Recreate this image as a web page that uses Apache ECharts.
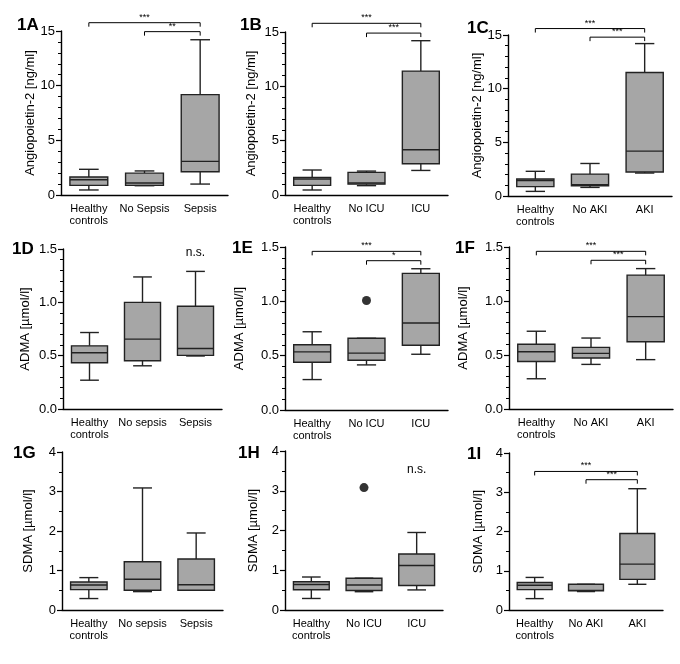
<!DOCTYPE html>
<html>
<head>
<meta charset="utf-8">
<script src="https://cdn.jsdelivr.net/npm/echarts@6/dist/echarts.min.js"></script>
<style>
  html, body { margin: 0; padding: 0; background: #fff; }
  #chart { width: 680px; height: 664px; }
</style>
</head>
<body>
<div id="chart"></div>
<script>
// categories
var catSepsisA = ["Healthy\ncontrols", "No Sepsis", "Sepsis"];
var catSepsis = ["Healthy\ncontrols", "No sepsis", "Sepsis"];
var catIcu = ["Healthy\ncontrols", "No ICU", "ICU"];
var catAki = ["Healthy\ncontrols", "No AKI", "AKI"];

// y tick values
var ticksAng2 = [0, 5, 10, 15];
var ticksAdma = [0, 0.5, 1.0, 1.5];
var ticksSdma = [0, 1, 2, 3, 4];

// boxes: [min, Q1, median, Q3, max] per category
var ang2Sepsis = [[0.46, 0.88, 1.4, 1.65, 2.35], [0.85, 0.88, 1.1, 2.0, 2.2], [1.0, 2.13, 3.08, 9.18, 14.2]];
var ang2Icu = [[0.46, 0.89, 1.47, 1.62, 2.3], [0.86, 1.0, 1.1, 2.08, 2.2], [2.26, 2.87, 4.16, 11.4, 14.2]];
var ang2Aki = [[0.43, 0.87, 1.45, 1.58, 2.3], [0.8, 0.96, 1.05, 2.04, 3.03], [2.14, 2.23, 4.18, 11.5, 14.2]];
var admaSepsis = [[0.27, 0.433, 0.527, 0.592, 0.717], [0.405, 0.452, 0.655, 1.0, 1.238], [0.497, 0.503, 0.567, 0.963, 1.29]];
var admaIcu = [[0.28, 0.44, 0.535, 0.6, 0.72], [0.415, 0.458, 0.523, 0.66, 0.66], [0.513, 0.596, 0.8, 1.257, 1.3]];
var admaAki = [[0.28, 0.44, 0.53, 0.6, 0.72], [0.413, 0.472, 0.515, 0.571, 0.657], [0.457, 0.623, 0.855, 1.24, 1.3]];
var sdmaSepsis = [[0.29, 0.516, 0.634, 0.71, 0.82], [0.465, 0.5, 0.78, 1.22, 3.09], [0.5, 0.5, 0.64, 1.29, 1.95]];
var sdmaIcu = [[0.29, 0.51, 0.64, 0.71, 0.83], [0.46, 0.49, 0.63, 0.8, 0.8], [0.505, 0.615, 1.12, 1.41, 1.95]];
var sdmaAki = [[0.29, 0.52, 0.63, 0.7, 0.83], [0.47, 0.49, 0.5, 0.655, 0.655], [0.655, 0.78, 1.17, 1.95, 3.09]];

// outliers: [category index, value]
var admaIcuOut = [[1, 1.008]];
var sdmaIcuOut = [[1, 3.08]];

// significance brackets: [from, to, y, label]
var sigAng2Sepsis = [[0, 2, 15.76, "***"], [1, 2, 14.94, "**"]];
var sigAng2Icu = [[0, 2, 15.8, "***"], [1, 2, 14.9, "***"]];
var sigAng2Aki = [[0, 2, 15.6, "***"], [1, 2, 14.8, "***"]];
var sigAdmaIcu = [[0, 2, 1.46, "***"], [1, 2, 1.374, "*"]];
var sigAdmaAki = [[0, 2, 1.46, "***"], [1, 2, 1.377, "***"]];
var sigSdmaAki = [[0, 2, 3.53, "***"], [1, 2, 3.32, "***"]];

// text notes: [category index, y, text]
var noteAdmaSepsis = [[2, 1.47, "n.s."]];
var noteSdmaIcu = [[2, 3.52, "n.s."]];

var font = "'Liberation Sans', Arial, sans-serif";
var ang2Name = "Angiopoietin-2 [ng/ml]";
var admaName = "ADMA [\u00b5mol/l]";
var sdmaName = "SDMA [\u00b5mol/l]";

var panels = [
  { letter: "1A", lx: 17, ly: 17, cats: catSepsisA, boxes: ang2Sepsis, ticks: ticksAng2, minor: 5, dec: 0, name: ang2Name, gap: 24, sig: sigAng2Sepsis, grid: [61, 31, 167, 164] },
  { letter: "1B", lx: 240, ly: 17, cats: catIcu, boxes: ang2Icu, ticks: ticksAng2, minor: 5, dec: 0, name: ang2Name, gap: 27, sig: sigAng2Icu, grid: [285, 32, 163, 163] },
  { letter: "1C", lx: 467, ly: 20, cats: catAki, boxes: ang2Aki, ticks: ticksAng2, minor: 5, dec: 0, name: ang2Name, gap: 23, sig: sigAng2Aki, grid: [508, 35, 164, 161] },
  { letter: "1D", lx: 12, ly: 241, cats: catSepsis, boxes: admaSepsis, ticks: ticksAdma, minor: 5, dec: 1, name: admaName, gap: 31, note: noteAdmaSepsis, grid: [63, 249, 159, 160] },
  { letter: "1E", lx: 232, ly: 240, cats: catIcu, boxes: admaIcu, ticks: ticksAdma, minor: 5, dec: 1, name: admaName, gap: 39, sig: sigAdmaIcu, out: admaIcuOut, grid: [285, 247, 163, 163] },
  { letter: "1F", lx: 455, ly: 240, cats: catAki, boxes: admaAki, ticks: ticksAdma, minor: 5, dec: 1, name: admaName, gap: 39, sig: sigAdmaAki, grid: [509, 247, 164, 162] },
  { letter: "1G", lx: 13, ly: 445, cats: catSepsis, boxes: sdmaSepsis, ticks: ticksSdma, minor: 2, dec: 0, name: sdmaName, gap: 27, grid: [62, 452, 161, 158] },
  { letter: "1H", lx: 238, ly: 445, cats: catIcu, boxes: sdmaIcu, ticks: ticksSdma, minor: 2, dec: 0, name: sdmaName, gap: 25, out: sdmaIcuOut, note: noteSdmaIcu, grid: [285, 451, 158, 159] },
  { letter: "1I", lx: 467, ly: 446, cats: catAki, boxes: sdmaAki, ticks: ticksSdma, minor: 2, dec: 0, name: sdmaName, gap: 24, sig: sigSdmaAki, grid: [509, 453, 154, 157] }
];

var ink = "#222";

function renderBox(params, api) {
  var i = api.value(0);
  var lo = api.coord([i, api.value(1)]);
  var q1 = api.coord([i, api.value(2)]);
  var md = api.coord([i, api.value(3)]);
  var q3 = api.coord([i, api.value(4)]);
  var hi = api.coord([i, api.value(5)]);
  var band = api.size([1, 0])[0];
  var bw = band * 0.68, cw = bw * 0.52;
  var x = lo[0];
  var ls = { stroke: ink, lineWidth: 1.4, fill: null };
  return {
    type: "group",
    children: [
      { type: "line", shape: { x1: x, y1: hi[1], x2: x, y2: q3[1] }, style: ls },
      { type: "line", shape: { x1: x, y1: q1[1], x2: x, y2: lo[1] }, style: ls },
      { type: "line", shape: { x1: x - cw / 2, y1: hi[1], x2: x + cw / 2, y2: hi[1] }, style: ls },
      { type: "line", shape: { x1: x - cw / 2, y1: lo[1], x2: x + cw / 2, y2: lo[1] }, style: ls },
      { type: "rect", shape: { x: x - bw / 2, y: q3[1], width: bw, height: q1[1] - q3[1] }, style: { fill: "#a6a6a6", stroke: ink, lineWidth: 1.4 } },
      { type: "line", shape: { x1: x - bw / 2, y1: md[1], x2: x + bw / 2, y2: md[1] }, style: ls }
    ]
  };
}

function sigRenderer(sig) {
  return function (params, api) {
    var s = sig[params.dataIndex];
    var a = api.coord([s[0], s[2]]);
    var b = api.coord([s[1], s[2]]);
    var d = 4;
    return {
      type: "group",
      children: [
        { type: "polyline", shape: { points: [[a[0], a[1] + d], [a[0], a[1]], [b[0], b[1]], [b[0], b[1] + d]] }, style: { stroke: "#000", lineWidth: 1, fill: null } },
        { type: "text", x: (a[0] + b[0]) / 2, y: a[1] - 1, style: { text: s[3], fontSize: 9, fontFamily: font, fill: "#000", align: "center", verticalAlign: "bottom" } }
      ]
    };
  };
}

function noteRenderer(note) {
  return function (params, api) {
    var n = note[params.dataIndex];
    var p = api.coord([n[0], n[1]]);
    return { type: "text", x: p[0], y: p[1], style: { text: n[2], fontSize: 12, fontFamily: font, fill: "#000", align: "center", verticalAlign: "middle" } };
  };
}

var option = {
  animation: false,
  textStyle: { fontFamily: font },
  title: [],
  grid: [],
  xAxis: [],
  yAxis: [],
  series: []
};

panels.forEach(function (p, k) {
  option.title.push({
    text: p.letter, left: p.lx, top: p.ly, padding: 0,
    textStyle: { fontSize: 17, fontWeight: "bold", color: "#000", fontFamily: font }
  });
  option.grid.push({ left: p.grid[0], top: p.grid[1], width: p.grid[2], height: p.grid[3] });
  option.xAxis.push({
    type: "category", gridIndex: k, data: p.cats,
    axisLine: { lineStyle: { color: "#000", width: 1.4 } },
    axisTick: { alignWithLabel: true, length: 4, lineStyle: { color: "#000", width: 1.2 } },
    axisLabel: { color: "#000", fontSize: 11, lineHeight: 12, margin: 8, interval: 0, fontFamily: font },
    splitLine: { show: false }
  });
  var t = p.ticks;
  option.yAxis.push({
    type: "value", gridIndex: k,
    min: t[0], max: t[t.length - 1], interval: t[1] - t[0],
    name: p.name, nameLocation: "middle", nameGap: p.gap,
    nameTextStyle: { fontSize: 13, color: "#000", fontFamily: font },
    axisLine: { show: true, lineStyle: { color: "#000", width: 1.4 } },
    axisTick: { show: true, length: 5, lineStyle: { color: "#000", width: 1.2 } },
    minorTick: { show: true, splitNumber: p.minor, length: 3, lineStyle: { color: "#000", width: 1 } },
    axisLabel: {
      color: "#000", fontSize: 13, margin: 6, fontFamily: font,
      formatter: function (v) { return v.toFixed(p.dec); }
    },
    splitLine: { show: false }
  });
  option.series.push({
    type: "custom", xAxisIndex: k, yAxisIndex: k,
    renderItem: renderBox,
    encode: { x: 0, y: [1, 2, 3, 4, 5] },
    data: p.boxes.map(function (b, i) { return [i].concat(b); })
  });
  if (p.out) {
    option.series.push({
      type: "scatter", xAxisIndex: k, yAxisIndex: k,
      symbolSize: 9, itemStyle: { color: "#000" },
      data: p.out
    });
  }
  if (p.sig) {
    option.series.push({
      type: "custom", xAxisIndex: k, yAxisIndex: k, clip: false,
      renderItem: sigRenderer(p.sig),
      encode: { x: 0, y: 2 },
      data: p.sig.map(function (s) { return [s[0], s[1], s[2]]; })
    });
  }
  if (p.note) {
    option.series.push({
      type: "custom", xAxisIndex: k, yAxisIndex: k, clip: false,
      renderItem: noteRenderer(p.note),
      encode: { x: 0, y: 1 },
      data: p.note.map(function (n) { return [n[0], n[1]]; })
    });
  }
});

var chart = echarts.init(document.getElementById("chart"));
chart.setOption(option);
</script>
</body>
</html>
